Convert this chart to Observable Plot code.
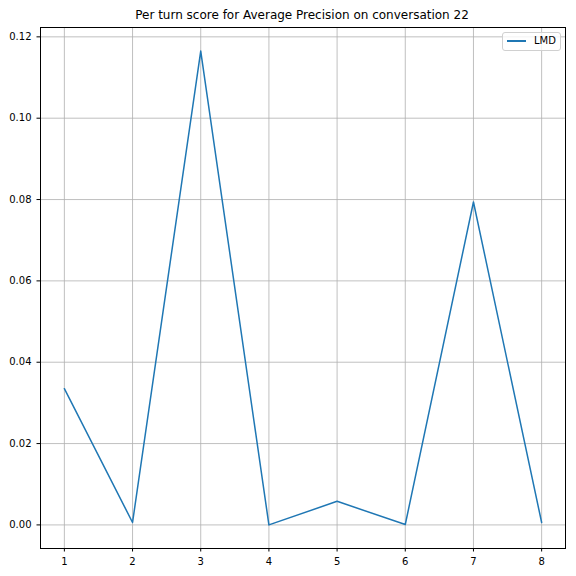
<!DOCTYPE html>
<html><head><meta charset="utf-8">
<script src="https://cdn.jsdelivr.net/npm/d3@7"></script>
<script src="https://cdn.jsdelivr.net/npm/@observablehq/plot@0.6"></script>
<style>
body{margin:0;background:#fff;font-family:"DejaVu Sans",sans-serif;}
#wrap{position:relative;width:576px;height:576px;}
#title{height:22px;line-height:22px;font-size:12px;text-align:center;padding-left:28px;box-sizing:border-box;padding-top:4px;}
#legend{position:absolute;left:502px;top:32px;width:57px;height:17px;border:1px solid #d0d0d0;border-radius:3px;background:rgba(255,255,255,0.8);font-size:10px;}
#legend .ln{position:absolute;left:4px;top:7px;width:19px;height:2px;background:#1f77b4;}
#legend .tx{position:absolute;left:31px;top:2px;}
svg{display:block;}
</style></head>
<body>
<div id="wrap">
<div id="title">Per turn score for Average Precision on conversation 22</div>
<div id="chart"></div>
<div id="legend"><div class="ln"></div><div class="tx">LMD</div></div>
</div>
<script>
const seriesName = "LMD";
const turns = [1, 2, 3, 4, 5, 6, 7, 8];
const scores = [0.0335, 0.0006, 0.1165, 0.0000, 0.0058, 0.0001, 0.0794, 0.0006];
const yTicks = [0.00, 0.02, 0.04, 0.06, 0.08, 0.10, 0.12];

const data = turns.map((t, i) => ({turn: t, score: scores[i]}));
const chart = Plot.plot({
  width: 576, height: 554,
  marginTop: 5, marginBottom: 28, marginLeft: 40, marginRight: 11,
  style: {fontFamily: "DejaVu Sans, sans-serif", fontSize: "10px", color: "#000"},
  x: {domain: [0.65, 8.35], ticks: turns, tickFormat: d3.format("d"), tickSize: 3.5, tickPadding: 3, label: null},
  y: {domain: [-0.0058, 0.1223], ticks: yTicks, tickFormat: d3.format(".2f"), tickSize: 3.5, tickPadding: 3, label: null},
  marks: [
    Plot.gridX(turns, {stroke: "#b0b0b0", strokeOpacity: 1, strokeWidth: 0.8}),
    Plot.gridY(yTicks, {stroke: "#b0b0b0", strokeOpacity: 1, strokeWidth: 0.8}),
    Plot.line(data, {x: "turn", y: "score", stroke: "#1f77b4", strokeWidth: 1.5}),
    Plot.axisX({ticks: turns, tickFormat: d3.format("d"), tickSize: 3.5, fontSize: 10, label: null}),
    Plot.axisY({ticks: yTicks, tickFormat: d3.format(".2f"), tickSize: 3.5, fontSize: 10, label: null}),
    Plot.frame({stroke: "#000", strokeWidth: 1})
  ]
});
document.getElementById("chart").appendChild(chart);
</script>
</body></html>
